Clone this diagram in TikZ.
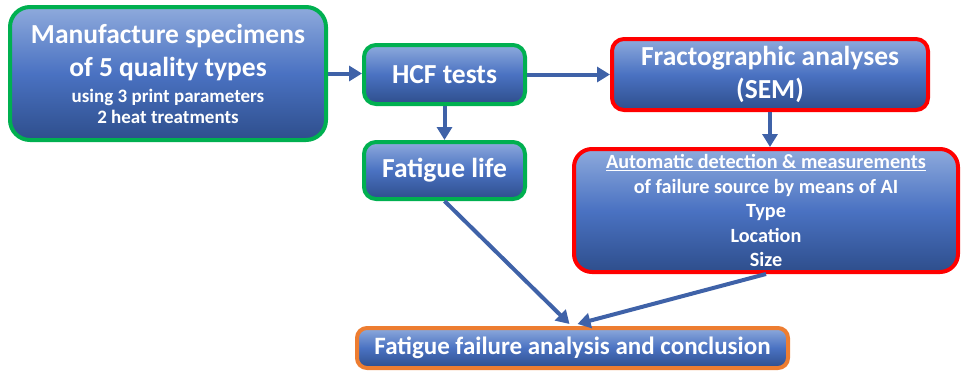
\documentclass[tikz,border=0pt]{standalone}
\usepackage{fontspec}
\setmainfont{Carlito}
\usetikzlibrary{arrows.meta}
\definecolor{boxtop}{HTML}{8EAADC}
\definecolor{boxmid}{HTML}{4A72C2}
\definecolor{boxbot}{HTML}{2E4E8C}
\definecolor{linkblue}{HTML}{3F62A8}
\definecolor{testgreen}{HTML}{00B050}
\definecolor{semred}{HTML}{FF0000}
\definecolor{endorange}{HTML}{ED7D31}

\begin{document}
\begin{tikzpicture}[
    x=1pt, y=-1pt,
    >={Triangle[length=13pt,width=15pt]},
    stage/.style={rectangle, rounded corners=12pt, line width=4pt,
        top color=boxtop, bottom color=boxbot, middle color=boxmid,
        text=white, align=center, inner sep=0pt},
    link/.style={->, line width=4pt, linkblue}
]
    \useasboundingbox (0,0) rectangle (962,375);

    % Production and testing (green)
    \node[stage, draw=testgreen, rounded corners=20pt, minimum width=316pt, minimum height=133pt,
        font=\bfseries\fontsize{27.5}{33}\selectfont]
        (make) at (168,73.5)
        {Manufacture specimens\\
         of 5 quality types\\[-7pt]
         {\fontsize{19}{21}\selectfont using 3 print parameters}\\[-12pt]
         {\fontsize{19}{21}\selectfont 2 heat treatments}};
    \node[stage, draw=testgreen, minimum width=161pt, minimum height=59pt,
        font=\bfseries\fontsize{27.5}{33}\selectfont]
        (hcf) at (444.5,74.5) {HCF tests};
    \node[stage, draw=testgreen, minimum width=161pt, minimum height=57pt,
        font=\bfseries\fontsize{27.5}{33}\selectfont]
        (life) at (444.5,170.5) {Fatigue life};

    % Fractography (red)
    \node[stage, draw=semred, minimum width=316pt, minimum height=71pt,
        font=\bfseries\fontsize{27.5}{33}\selectfont]
        (frac) at (770,74.5)
        {Fractographic analyses\\ (SEM)};
    \node[stage, draw=semred, rounded corners=18pt, minimum width=384pt, minimum height=123pt,
        font=\bfseries\fontsize{20.2}{24.5}\selectfont]
        (auto) at (766,210.5)
        {\underline{Automatic detection \& measurements}\\
         of failure source by means of AI\\
         Type\\
         Location\\
         Size};

    % Conclusion (orange)
    \node[stage, draw=endorange, rounded corners=10pt, minimum width=431pt, minimum height=40pt,
        font=\bfseries\fontsize{25}{30}\selectfont]
        (final) at (572.5,348)
        {Fatigue failure analysis and conclusion};

    % Connectors
    \draw[link] (make.east) -- (make.east -| hcf.west);
    \draw[link] (hcf.east) -- (frac.west);
    \draw[link] (hcf.south) -- (life.north);
    \draw[link] (frac.south) -- (frac.south |- auto.north);
    \draw[link] (life.south) -- ([xshift=-3pt,yshift=2pt]final.north);
    \draw[link] (auto.south) -- ([xshift=5pt,yshift=2pt]final.north);

\end{tikzpicture}
\end{document}
